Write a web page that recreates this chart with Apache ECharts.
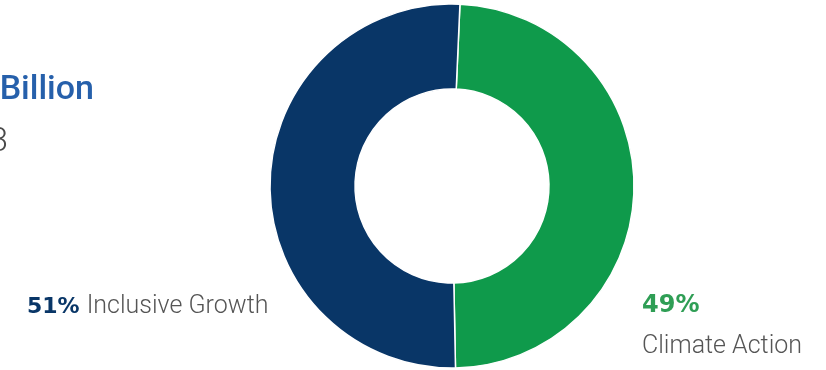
<!DOCTYPE html>
<html>
<head>
<meta charset="utf-8">
<script src="https://cdn.jsdelivr.net/npm/echarts@6/dist/echarts.min.js"></script>
<style>
  html, body { margin: 0; padding: 0; background: #fff; }
  #chart { width: 826px; height: 370px; }
</style>
</head>
<body>
<div id="chart"></div>
<script>
// slices, clockwise from the top
var names = ['Climate Action', 'Inclusive Growth'];
var values = [49, 51];
var colors = ['#0f9a4b', '#093667'];

var chart = echarts.init(document.getElementById('chart'));

var pieData = names.map(function (n, i) {
    return { name: n, value: values[i], itemStyle: { color: colors[i] } };
});

var font = 'Roboto, "Liberation Sans", sans-serif';
var boldFont = '"DejaVu Sans", "Open Sans", sans-serif';

chart.setOption({
    animation: false,
    series: [
        {
            type: 'pie',
            center: [452, 186],
            radius: [97, 182],
            startAngle: 87.5,
            silent: true,
            label: { show: false },
            labelLine: { show: false },
            itemStyle: { borderColor: '#fff', borderWidth: 1.5 },
            data: pieData
        }
    ],
    graphic: [
        {
            type: 'text', x: 94, y: 90,
            style: {
                text: 'Billion', align: 'right', verticalAlign: 'middle',
                font: '500 34px ' + font, fill: '#2660ab'
            }
        },
        {
            type: 'text', x: 8, y: 142,
            style: {
                text: '3', align: 'right', verticalAlign: 'middle',
                font: '300 34px ' + font, fill: '#4a4a4a'
            }
        },
        {
            type: 'text', x: 27, y: 307,
            style: {
                text: '{p|' + values[1] + '%}{n|' + names[1] + '}',
                verticalAlign: 'middle',
                rich: {
                    p: { font: 'bold 22px ' + boldFont, fill: colors[1] },
                    n: { font: '300 25px ' + font, fill: '#555', padding: [0, 0, 0, 7] }
                }
            }
        },
        {
            type: 'text', x: 642, y: 306,
            style: {
                text: values[0] + '%', verticalAlign: 'middle',
                font: 'bold 24px ' + boldFont, fill: '#2f9e55'
            }
        },
        {
            type: 'text', x: 642, y: 347,
            style: {
                text: names[0], verticalAlign: 'middle',
                font: '300 25px ' + font, fill: '#555'
            }
        }
    ]
});
</script>
</body>
</html>
